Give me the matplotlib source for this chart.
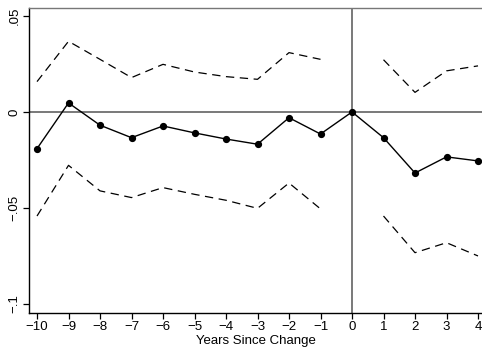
import matplotlib
matplotlib.use("Agg")
import matplotlib.pyplot as plt
import numpy as np

plt.rcParams['font.family'] = ['Liberation Sans', 'DejaVu Sans']
plt.rcParams['lines.scale_dashes'] = False

years = [-10, -9, -8, -7, -6, -5, -4, -3, -2, -1, 0, 1, 2, 3, 4]
estimate = [-0.0191, 0.0047, -0.0069, -0.0134, -0.0073, -0.0109, -0.0141,
            -0.0168, -0.0030, -0.0115, 0.0, -0.0134, -0.0318, -0.0234, -0.0255]

ci_years_pre = [-10, -9, -8, -7, -6, -5, -4, -3, -2, -1]
upper_pre = [0.0158, 0.0368, 0.0274, 0.0179, 0.0248, 0.0208, 0.0184, 0.0170, 0.0309, 0.0274]
lower_pre = [-0.0542, -0.0278, -0.0411, -0.0446, -0.0394, -0.0429, -0.0460, -0.0502, -0.0370, -0.0505]

ci_years_post = [1, 2, 3, 4]
upper_post = [0.0272, 0.0102, 0.0214, 0.0240]
lower_post = [-0.0542, -0.0733, -0.0681, -0.0750]

xticks = list(range(-10, 5))
yticks = [-0.1, -0.05, 0, 0.05]
ytick_labels = ['\u2212.1', '\u2212.05', '0', '.05']

fig = plt.figure(figsize=(4.82, 3.49), dpi=100)
ax = fig.add_axes([0.0602, 0.1032, 0.9398, 0.8753])

ax.axhline(0, color='#555555', lw=1.1, zorder=1)
ax.axvline(0, color='#555555', lw=1.1, zorder=1)

dash = (0, (6, 4))
for xs, ys in [(ci_years_pre, upper_pre), (ci_years_pre, lower_pre),
               (ci_years_post, upper_post), (ci_years_post, lower_post)]:
    ax.plot(xs, ys, color='black', lw=0.9, linestyle=dash, zorder=2)

ax.plot(years, estimate, color='black', lw=1.0, marker='o', markersize=4.2, zorder=3)

ax.set_xlim(-10.254, 4.127)
ax.set_ylim(-0.1047, 0.0544)
ax.set_xticks(xticks)
ax.set_xticklabels([str(x).replace('-', '\u2212') for x in xticks])
ax.set_yticks(yticks)
ax.set_yticklabels(ytick_labels, rotation=90, va='center')
ax.tick_params(direction='out', length=4, width=0.9, labelsize=9.5, pad=2, colors='black')
ax.set_xlabel('Years Since Change', fontsize=9.5, labelpad=1)

ax.spines['left'].set_color('black')
ax.spines['bottom'].set_color('black')
ax.spines['top'].set_color('#777777')
ax.spines['right'].set_visible(False)
for s in ax.spines.values():
    s.set_linewidth(1.0)

fig.savefig('out.png', dpi=100)
